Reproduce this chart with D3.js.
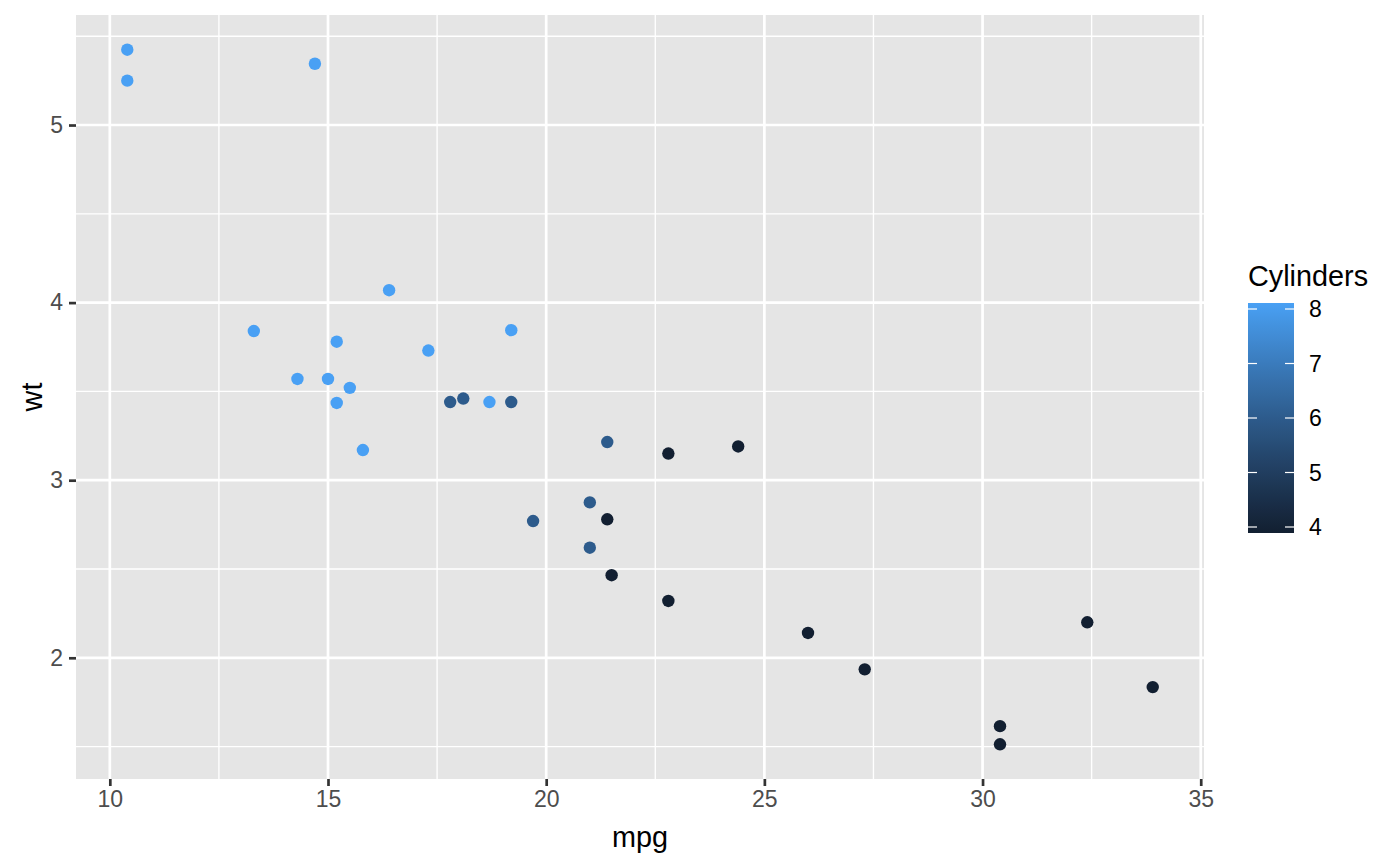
<!DOCTYPE html>
<html lang="en">
<head>
<meta charset="UTF-8" />
<title>mpg vs wt</title>
<script src="https://d3js.org/d3.v7.min.js"></script>
<style>
  body { margin: 0; background: #fff; font-family: "Liberation Sans", Arial, sans-serif; }
  svg { display: block; }
</style>
</head>
<body>
<svg id="chart" width="1400" height="866"></svg>
<script>
// mtcars: mpg, wt, cyl
const mpg = [21.0, 21.0, 22.8, 21.4, 18.7, 18.1, 14.3, 24.4, 22.8, 19.2, 17.8, 16.4, 17.3, 15.2, 10.4, 10.4,
             14.7, 32.4, 30.4, 33.9, 21.5, 15.5, 15.2, 13.3, 19.2, 27.3, 26.0, 30.4, 15.8, 19.7, 15.0, 21.4];
const wt = [2.620, 2.875, 2.320, 3.215, 3.440, 3.460, 3.570, 3.190, 3.150, 3.440, 3.440, 4.070, 3.730, 3.780, 5.250, 5.424,
            5.345, 2.200, 1.615, 1.835, 2.465, 3.520, 3.435, 3.840, 3.845, 1.935, 2.140, 1.513, 3.170, 2.770, 3.570, 2.780];
const cyl = [6, 6, 4, 6, 8, 6, 8, 4, 4, 6, 6, 8, 8, 8, 8, 8, 8, 4, 4, 4, 4, 8, 8, 8, 8, 4, 4, 4, 8, 6, 8, 4];

const xMajor = [10, 15, 20, 25, 30, 35];
const xMinor = [12.5, 17.5, 22.5, 27.5, 32.5];
const yMajor = [2, 3, 4, 5];
const yMinor = [1.5, 2.5, 3.5, 4.5, 5.5];
const legendTicks = [4, 5, 6, 7, 8];

const svg = d3.select("#chart");
const panel = { left: 76, right: 1204, top: 15, bottom: 779 };

// ggplot-style 5% expansion
function expand(ext) {
  const d = (ext[1] - ext[0]) * 0.05;
  return [ext[0] - d, ext[1] + d];
}

const x = d3.scaleLinear().domain(expand(d3.extent(mpg))).range([panel.left, panel.right]);
const y = d3.scaleLinear().domain(expand(d3.extent(wt))).range([panel.bottom, panel.top]);
const color = d3.scaleLinear().domain([4, 8]).range(["#121F31", "#49A0F4"]).interpolate(d3.interpolateLab);

// panel background
svg.append("rect")
  .attr("x", panel.left).attr("y", panel.top)
  .attr("width", panel.right - panel.left).attr("height", panel.bottom - panel.top)
  .attr("fill", "#E5E5E5");

const grid = svg.append("g");
grid.selectAll(".xminor").data(xMinor).join("line")
  .attr("x1", d => x(d)).attr("x2", d => x(d))
  .attr("y1", panel.top).attr("y2", panel.bottom)
  .attr("stroke", "#fff").attr("stroke-width", 1.35);
grid.selectAll(".yminor").data(yMinor).join("line")
  .attr("y1", d => y(d)).attr("y2", d => y(d))
  .attr("x1", panel.left).attr("x2", panel.right)
  .attr("stroke", "#fff").attr("stroke-width", 1.35);
grid.selectAll(".xmajor").data(xMajor).join("line")
  .attr("x1", d => x(d)).attr("x2", d => x(d))
  .attr("y1", panel.top).attr("y2", panel.bottom)
  .attr("stroke", "#fff").attr("stroke-width", 2.7);
grid.selectAll(".ymajor").data(yMajor).join("line")
  .attr("y1", d => y(d)).attr("y2", d => y(d))
  .attr("x1", panel.left).attr("x2", panel.right)
  .attr("stroke", "#fff").attr("stroke-width", 2.7);

// axes
const xAxis = svg.append("g")
  .attr("transform", `translate(0,${panel.bottom})`)
  .call(d3.axisBottom(x).tickValues(xMajor).tickSize(7).tickPadding(5).tickFormat(d3.format("d")));
const yAxis = svg.append("g")
  .attr("transform", `translate(${panel.left},0)`)
  .call(d3.axisLeft(y).tickValues(yMajor).tickSize(7).tickPadding(6).tickFormat(d3.format("d")));
[xAxis, yAxis].forEach(g => {
  g.select(".domain").remove();
  g.selectAll(".tick line").attr("stroke", "#333").attr("stroke-width", 2.7);
  g.selectAll(".tick text").attr("fill", "#4D4D4D")
    .style("font-family", "'Liberation Sans', Arial, sans-serif").style("font-size", "23px");
});

// points
const idx = d3.range(mpg.length);
svg.append("g").selectAll("circle").data(idx).join("circle")
  .attr("cx", i => x(mpg[i]))
  .attr("cy", i => y(wt[i]))
  .attr("r", 6.2)
  .attr("fill", i => color(cyl[i]));

// axis titles
svg.append("text")
  .attr("x", (panel.left + panel.right) / 2).attr("y", 847)
  .attr("text-anchor", "middle")
  .style("font-size", "28.8px").attr("fill", "#000")
  .text("mpg");
svg.append("text")
  .attr("transform", `translate(42,${(panel.top + panel.bottom) / 2}) rotate(-90)`)
  .attr("text-anchor", "middle")
  .style("font-size", "28.8px").attr("fill", "#000")
  .text("wt");

// legend colourbar
const bar = { x: 1248, y: 303, w: 46, h: 230 };
const ly = d3.scaleLinear().domain([4, 8]).range([527, 309]);
const defs = svg.append("defs");
const grad = defs.append("linearGradient").attr("id", "cbar")
  .attr("x1", 0).attr("y1", 1).attr("x2", 0).attr("y2", 0);
d3.range(0, 1.0001, 0.05).forEach(t => {
  grad.append("stop").attr("offset", t).attr("stop-color", color(4 + 4 * t));
});
svg.append("rect")
  .attr("x", bar.x).attr("y", bar.y).attr("width", bar.w).attr("height", bar.h)
  .attr("fill", "url(#cbar)");

const leg = svg.append("g");
leg.selectAll(".lt1").data(legendTicks).join("line")
  .attr("x1", bar.x).attr("x2", bar.x + 9)
  .attr("y1", d => ly(d)).attr("y2", d => ly(d))
  .attr("stroke", "#fff").attr("stroke-width", 1.2);
leg.selectAll(".lt2").data(legendTicks).join("line")
  .attr("x1", bar.x + bar.w - 9).attr("x2", bar.x + bar.w)
  .attr("y1", d => ly(d)).attr("y2", d => ly(d))
  .attr("stroke", "#fff").attr("stroke-width", 1.2);
leg.selectAll("text").data(legendTicks).join("text")
  .attr("x", 1309).attr("y", d => ly(d))
  .attr("dy", "0.35em")
  .style("font-size", "23px").attr("fill", "#000")
  .text(d => d);

svg.append("text")
  .attr("x", 1248).attr("y", 286)
  .style("font-size", "28.8px").attr("fill", "#000")
  .text("Cylinders");
</script>
</body>
</html>
